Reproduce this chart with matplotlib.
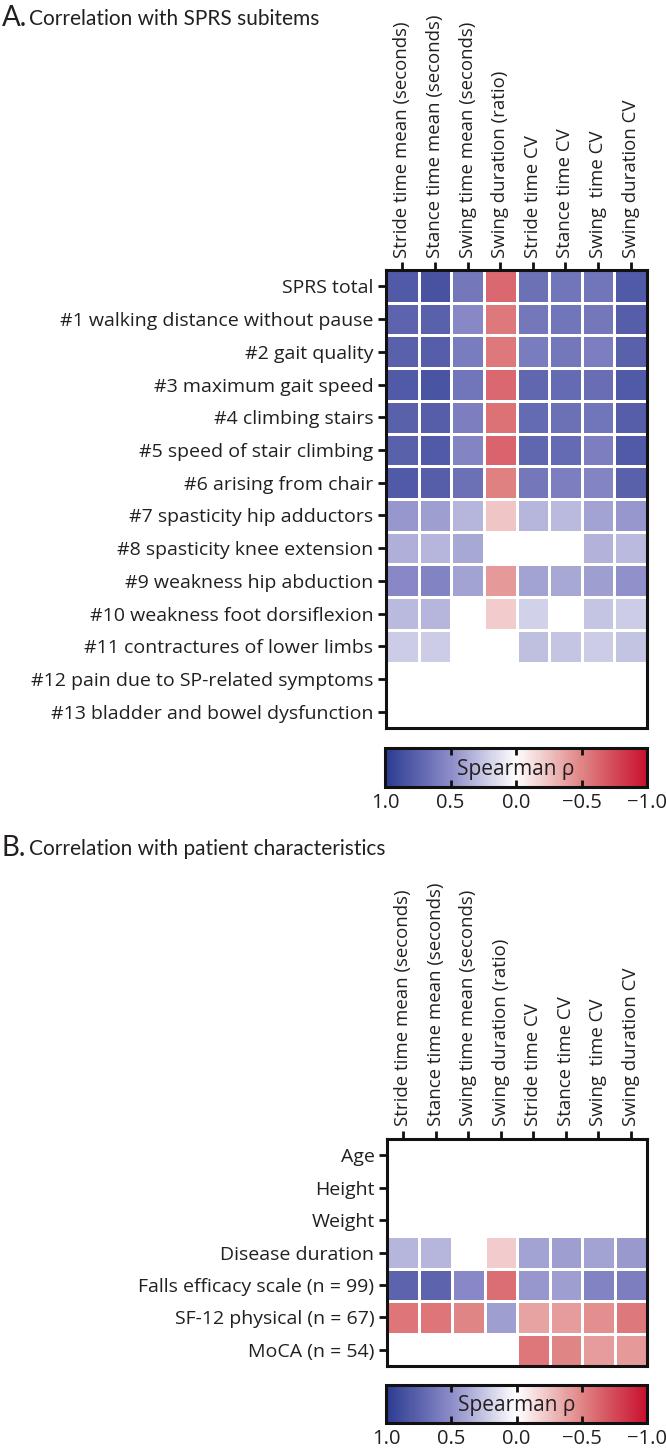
import numpy as np
import matplotlib
matplotlib.use("Agg")
import matplotlib.pyplot as plt
from matplotlib.colors import LinearSegmentedColormap, Normalize
from matplotlib.cm import ScalarMappable

plt.rcParams['font.family'] = ['Open Sans', 'DejaVu Sans']

gait_params = ["Stride time mean (seconds)", "Stance time mean (seconds)",
               "Swing time mean (seconds)", "Swing duration (ratio)",
               "Stride time CV", "Stance time CV", "Swing  time CV", "Swing duration CV"]

sprs_items = ["SPRS total", "#1 walking distance without pause", "#2 gait quality",
              "#3 maximum gait speed", "#4 climbing stairs", "#5 speed of stair climbing",
              "#6 arising from chair", "#7 spasticity hip adductors",
              "#8 spasticity knee extension", "#9 weakness hip abduction",
              "#10 weakness foot dorsiflexion", "#11 contractures of lower limbs",
              "#12 pain due to SP-related symptoms", "#13 bladder and bowel dysfunction"]

nan = np.nan
rho_sprs = [
    [0.80, 0.85, 0.62, -0.62, 0.66, 0.64, 0.64, 0.80],
    [0.74, 0.76, 0.52, -0.55, 0.62, 0.64, 0.62, 0.78],
    [0.76, 0.78, 0.60, -0.55, 0.60, 0.62, 0.58, 0.76],
    [0.80, 0.84, 0.64, -0.62, 0.72, 0.70, 0.68, 0.80],
    [0.76, 0.78, 0.58, -0.58, 0.70, 0.66, 0.64, 0.78],
    [0.76, 0.80, 0.54, -0.64, 0.72, 0.70, 0.58, 0.80],
    [0.80, 0.78, 0.66, -0.52, 0.62, 0.58, 0.54, 0.76],
    [0.45, 0.42, 0.32, -0.24, 0.32, 0.30, 0.40, 0.45],
    [0.35, 0.32, 0.38, nan, nan, nan, 0.33, 0.30],
    [0.52, 0.55, 0.40, -0.42, 0.40, 0.38, 0.42, 0.48],
    [0.30, 0.32, nan, -0.21, 0.20, nan, 0.25, 0.22],
    [0.22, 0.22, nan, nan, 0.28, 0.25, 0.22, 0.26],
    [nan] * 8,
    [nan] * 8,
]

patient_items = ["Age", "Height", "Weight", "Disease duration",
                 "Falls efficacy scale (n = 99)", "SF-12 physical (n = 67)", "MoCA (n = 54)"]

rho_patient = [
    [nan] * 8,
    [nan] * 8,
    [nan] * 8,
    [0.32, 0.32, nan, -0.21, 0.40, 0.42, 0.40, 0.44],
    [0.74, 0.74, 0.52, -0.60, 0.45, 0.42, 0.55, 0.58],
    [-0.57, -0.57, -0.50, 0.42, -0.38, -0.40, -0.46, -0.55],
    [nan, nan, nan, nan, -0.56, -0.50, -0.40, -0.42],
]

cbar_ticks = [1.0, 0.5, 0.0, -0.5, -1.0]

# red for negative, blue for positive
cmap = LinearSegmentedColormap.from_list(
    "rho", [(0.0, "#c8102e"), (0.25, "#e08585"), (0.5, "#ffffff"),
            (0.75, "#8c8cc8"), (1.0, "#2b3a91")])
norm = Normalize(vmin=-1, vmax=1)

W, H = 666, 1448
fig = plt.figure(figsize=(W / 100, H / 100), dpi=100)
txt = "#231f20"


def box(x0, y0, x1, y1):
    return [x0 / W, 1 - y1 / H, (x1 - x0) / W, (y1 - y0) / H]


def heatmap(ax, data, rows):
    data = np.ma.masked_invalid(np.array(data, dtype=float))
    ax.pcolormesh(np.arange(len(gait_params) + 1), np.arange(len(rows) + 1), data,
                  cmap=cmap, norm=norm, edgecolors="white", linewidth=0.9)
    ax.set_xlim(0, len(gait_params))
    ax.set_ylim(len(rows), 0)
    ax.set_xticks(np.arange(len(gait_params)) + 0.5)
    ax.set_xticklabels(gait_params, rotation=90, fontsize=13.4, color=txt)
    ax.set_yticks(np.arange(len(rows)) + 0.5)
    ax.set_yticklabels(rows, fontsize=14, color=txt)
    ax.xaxis.tick_top()
    ax.tick_params(axis="both", length=6, width=2, color="#111111", pad=3)
    for s in ax.spines.values():
        s.set_linewidth(2.2)
        s.set_color("#111111")


def colorbar(ax):
    cb = fig.colorbar(ScalarMappable(norm=norm, cmap=cmap), cax=ax, orientation="horizontal")
    cb.outline.set_linewidth(2.2)
    cb.outline.set_edgecolor("#111111")
    ax.set_xlim(1, -1)
    cb.set_ticks(cbar_ticks)
    cb.set_ticklabels(["1.0", "0.5", "0.0", "\u22120.5", "\u22121.0"])
    ax.tick_params(axis="x", direction="in", length=5, width=2, color="#111111",
                   top=True, labelsize=14.5, labelcolor=txt, pad=4)
    ax.text(0.5, 0.45, "Spearman \u03c1", transform=ax.transAxes, ha="center",
            va="center", fontsize=15, color=txt)


ax_a = fig.add_axes(box(386, 270, 647, 728))
heatmap(ax_a, rho_sprs, sprs_items)
cax_a = fig.add_axes(box(385, 748, 647, 787))
colorbar(cax_a)

ax_b = fig.add_axes(box(387, 1139, 647, 1366))
heatmap(ax_b, rho_patient, patient_items)
cax_b = fig.add_axes(box(386, 1385, 647, 1423))
colorbar(cax_b)

title_font = ['Lato', 'Open Sans']
fig.text(2 / W, 1 - 18 / H, "A.", fontsize=20, color=txt, va="center", family=title_font)
fig.text(29 / W, 1 - 19 / H, "Correlation with SPRS subitems", fontsize=15, color=txt,
         va="center", family=title_font)
fig.text(2 / W, 1 - 848 / H, "B.", fontsize=20, color=txt, va="center", family=title_font)
fig.text(29 / W, 1 - 849 / H, "Correlation with patient characteristics", fontsize=15,
         color=txt, va="center", family=title_font)

fig.savefig("out.png", dpi=100, facecolor="white")
